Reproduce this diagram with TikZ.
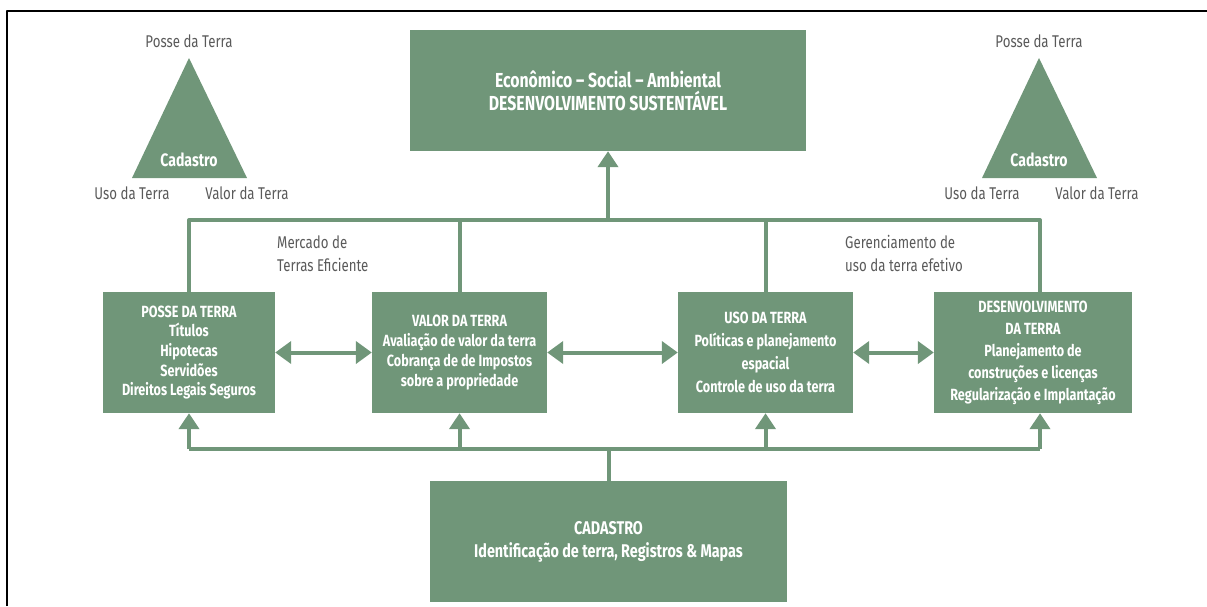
\documentclass[tikz,border=0pt]{standalone}
\usepackage{fontspec}
\setmainfont[FakeStretch=0.78]{Fira Sans}
\usetikzlibrary{arrows.meta, positioning}

\definecolor{verde}{RGB}{112,150,121}
\definecolor{cinza}{RGB}{90,90,90}

\begin{document}
\begin{tikzpicture}[x=1pt, y=-1pt, line join=round,
    caixa/.style={fill=verde, text=white, align=center, inner sep=0pt,
        font=\bfseries\fontsize{16.2}{19.7}\selectfont},
    rotulo/.style={text=cinza, inner sep=0pt, font=\fontsize{17}{23}\selectfont},
    liga/.style={draw=verde, line width=4pt},
    seta/.style={liga, -{Triangle[width=20pt,length=16pt]}},
    duplaseta/.style={liga, {Triangle[width=22pt,length=16pt]}-{Triangle[width=22pt,length=16pt]}}]

    \useasboundingbox (0,0) rectangle (1207,606);

    % moldura
    \draw[line width=2.5pt] (7,606) -- (7,11) -- (1207,11);

    % caixa de cima
    \node[caixa, minimum width=396, minimum height=121,
          font=\bfseries\fontsize{20.3}{23}\selectfont] (sust) at (608,90.5)
        {Econômico – Social – Ambiental\\DESENVOLVIMENTO SUSTENTÁVEL};

    % as quatro caixas do meio
    \node[caixa, minimum width=172, minimum height=121] (posse) at (189,352.5)
        {POSSE DA TERRA\\Títulos\\Hipotecas\\Servidões\\Direitos Legais Seguros};
    \node[caixa, minimum width=175, minimum height=121] (valor) at (459.5,352.5)
        {VALOR DA TERRA\\Avaliação de valor da terra\\Cobrança de de Impostos\\sobre a propriedade};
    \node[caixa, minimum width=175, minimum height=121,
          font=\bfseries\fontsize{16.2}{23}\selectfont] (uso) at (765.5,352.5)
        {USO DA TERRA\\Políticas e planejamento\\espacial\\Controle de uso da terra};
    \node[caixa, minimum width=198, minimum height=121,
          font=\bfseries\fontsize{16.2}{22}\selectfont] (desenv) at (1033,352.5)
        {DESENVOLVIMENTO\\DA TERRA\\Planejamento de\\construções e licenças\\Regularização e Implantação};

    % caixa de baixo
    \node[caixa, minimum width=357, minimum height=121,
          font=\bfseries\fontsize{18.4}{23}\selectfont] (cad) at (608.5,541.5)
        {CADASTRO\\Identificação de terra, Registros \& Mapas};

    % ligações de cima
    \coordinate (topo) at (608,220);
    \coordinate (dtopo) at ([xshift=7]desenv.north);
    \draw[liga] (posse.north) -- (posse.north |- topo) -- (dtopo |- topo) -- (dtopo);
    \draw[liga] (valor.north) -- (valor.north |- topo);
    \draw[liga] (uso.north) -- (uso.north |- topo);
    \draw[seta] (topo) -- (sust.south);

    % setas duplas
    \draw[duplaseta] (posse.east) -- (valor.west);
    \draw[duplaseta] (valor.east) -- (uso.west);
    \draw[duplaseta] (uso.east) -- (desenv.west);

    % ligações de baixo
    \coordinate (base) at (608,449);
    \coordinate (dbase) at ([xshift=7]desenv.south);
    \draw[liga] (cad.north) -- (cad.north |- base);
    \draw[liga] (posse.south |- base) -- (dbase |- base);
    \foreach \c in {posse.south, valor.south, uso.south, dbase}
        \draw[seta] (\c |- base) -- (\c);

    % textos entre as caixas
    \node[rotulo, align=left, anchor=west] (mercado) at (277,253.5)
        {Mercado de\\Terras Eficiente};
    \node[rotulo, align=left, anchor=west] (gerenc) at (845,253.5)
        {Gerenciamento de\\uso da terra efetivo};

    % triângulos
    \foreach \nome/\x in {esq/189, dir/1039} {
        \fill[verde] (\x,58) -- (\x+58,178) -- (\x-57,178) -- cycle;
        \node[rotulo] (posse-\nome) at (\x,41) {Posse da Terra};
        \node[caixa, fill=none, font=\bfseries\fontsize{18}{20}\selectfont] (cad-\nome) at (\x,160) {Cadastro};
        \node[rotulo] (uso-\nome) at (\x-57,193) {Uso da Terra};
        \node[rotulo] (valor-\nome) at (\x+58,193) {Valor da Terra};
    }

\end{tikzpicture}
\end{document}
